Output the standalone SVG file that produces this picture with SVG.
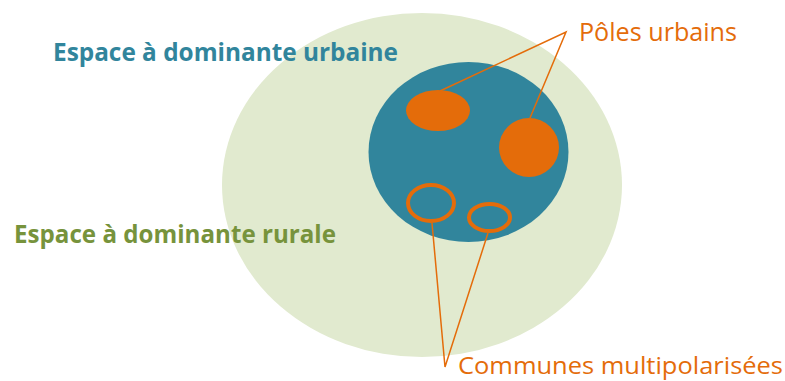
<svg xmlns="http://www.w3.org/2000/svg" width="785" height="381" viewBox="0 0 785 381">
  <style>
    .lbl { font-family: "Open Sans", "Liberation Sans", sans-serif; }
    .orange { fill: #e46c0a; }
    .conn { stroke: #e46c0a; stroke-width: 1.5; fill: none; }
    .ring { fill: none; stroke: #e46c0a; stroke-width: 4; }
  </style>
  <rect width="785" height="381" fill="#ffffff"/>
  <g id="rural-space">
    <ellipse cx="422" cy="185" rx="200" ry="172" fill="#e1eacf"/>
  </g>
  <g id="urban-space">
    <ellipse cx="468.5" cy="152" rx="100" ry="90" fill="#31859c"/>
  </g>
  <g id="pole-1">
    <ellipse cx="438" cy="110.5" rx="32" ry="20.5" class="orange"/>
  </g>
  <g id="pole-2">
    <ellipse cx="529" cy="147.5" rx="30" ry="29.5" class="orange"/>
  </g>
  <g id="commune-1">
    <ellipse cx="431" cy="203" rx="23" ry="18" class="ring"/>
  </g>
  <g id="commune-2">
    <ellipse cx="489.5" cy="217.5" rx="20.5" ry="13.5" class="ring"/>
  </g>
  <g id="connectors">
    <polyline class="conn" points="440,91 566,32 530,118"/>
    <polyline class="conn" points="432,223 445,367 488,233"/>
  </g>
  <g id="label-urbaine">
    <text class="lbl" x="53" y="61" font-size="25" font-weight="bold" fill="#31859c" textLength="345" lengthAdjust="spacingAndGlyphs">Espace à dominante urbaine</text>
  </g>
  <g id="label-rurale">
    <text class="lbl" x="14" y="243" font-size="25" font-weight="bold" fill="#77933c" textLength="322" lengthAdjust="spacingAndGlyphs">Espace à dominante rurale</text>
  </g>
  <g id="label-poles">
    <text class="lbl orange" x="579" y="41" font-size="25" textLength="158" lengthAdjust="spacingAndGlyphs">Pôles urbains</text>
  </g>
  <g id="label-communes">
    <text class="lbl orange" x="458" y="374" font-size="24" textLength="325" lengthAdjust="spacingAndGlyphs">Communes multipolarisées</text>
  </g>
</svg>
